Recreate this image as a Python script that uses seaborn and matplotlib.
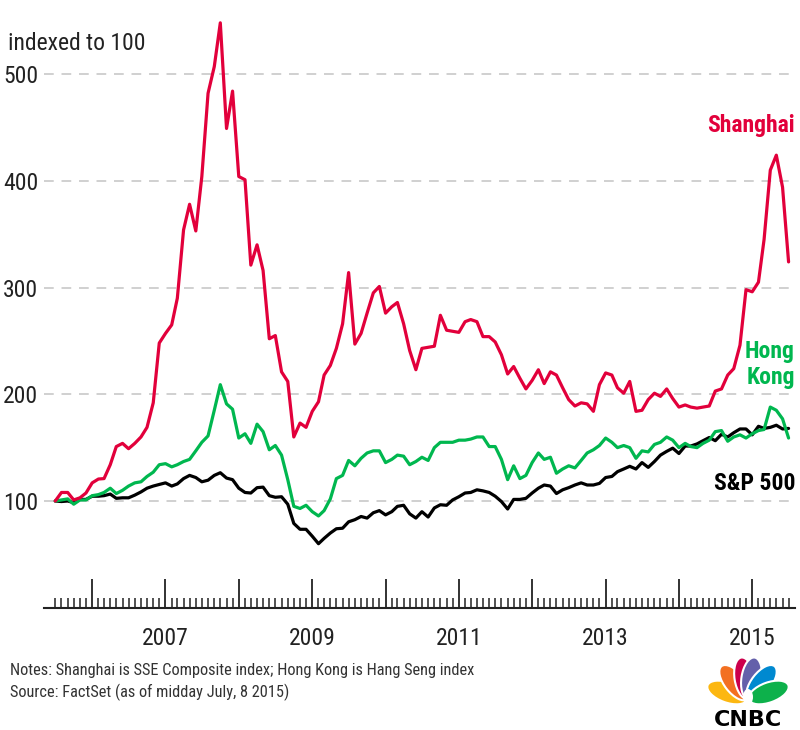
import numpy as np
import pandas as pd
import matplotlib
matplotlib.use("Agg")
import matplotlib.pyplot as plt
import matplotlib.dates as mdates
from matplotlib.ticker import FuncFormatter, FixedLocator
from matplotlib.patches import Ellipse
import seaborn as sns

# -----------------------------
# DATA (monthly, indexed to 100)
# -----------------------------
dates = pd.date_range("2005-07-01", periods=121, freq="MS")

shanghai = [100, 108, 108, 101, 103, 107.5, 117, 120.6, 121, 134, 151, 154, 149, 154, 160, 169,
            192, 248, 257, 265, 290, 354, 378, 353, 404, 482, 507, 548, 449, 484, 404, 401,
            321, 340, 316, 252, 255, 221, 212, 160, 173, 169, 184, 193, 218, 227, 243, 266,
            314, 247, 257, 276, 295, 301, 276, 282, 286, 266, 241, 223, 243, 244, 245, 274,
            260, 259, 258, 268, 270, 268, 254, 254, 249, 237, 219, 226, 215, 205, 213, 223,
            210, 221, 218, 206, 195, 189, 192, 191, 184, 209, 220, 218, 206, 201, 212, 184,
            185, 195, 201, 198, 205, 196, 188, 190, 188, 187, 188, 189, 203, 205, 218, 224,
            246, 298, 296, 305, 345, 410, 424, 394, 324]

hong_kong = [100, 101, 102, 97, 101, 101, 105, 106, 108, 112, 107, 110, 114, 117, 118, 123,
             127, 134, 135, 132, 134, 137, 139, 147, 155, 161, 185, 209, 191, 186, 159, 163,
             154, 172, 165, 148, 152, 143, 120, 95, 93, 96, 90, 86, 91, 102, 121, 124,
             138, 133, 140, 145, 147, 147, 136, 139, 143, 142, 134, 137, 141, 138, 150, 155,
             155, 155, 157, 157, 158, 160, 160, 151, 151, 139, 120, 133, 121, 124, 136, 145,
             139, 141, 126, 130, 133, 131, 138, 145, 148, 152, 159, 155, 150, 152, 150, 140,
             147, 146, 153, 155, 160, 157, 150, 154, 151, 150, 154, 157, 165, 166, 156, 160,
             162, 159, 163, 166, 167, 188, 185, 177, 159]

sp500 = [100, 99.5, 100, 98.5, 101.5, 101.5, 104.5, 104.5, 105, 106.5, 102.5, 103, 103, 105.5,
         108.5, 112, 114, 115.5, 117, 114, 116, 121, 124, 122, 118, 119.5, 124, 126.5, 121.5,
         120, 112, 108, 107.5, 112.5, 113, 105, 103.5, 104, 97, 79, 73.5, 73.5, 67, 60, 65,
         70, 74, 74.5, 80.5, 82.5, 85.5, 84, 89, 91, 87, 90, 95, 96, 88, 84, 90, 85, 93.5,
         96.5, 96, 101, 104, 107.5, 108, 110.5, 109.5, 108, 104.5, 99.5, 92.5, 101.5, 101.5,
         102.5, 107.5, 112, 115, 114, 107, 110.5, 112.5, 115, 117, 115, 115, 116.5, 122, 123,
         127.5, 130, 132.5, 130, 136, 131.5, 137, 143, 146.5, 149.5, 144.5, 151.5, 151.5,
         153.5, 156.5, 159.5, 156.5, 162.5, 160, 164, 167.5, 167.5, 162, 170, 168, 169, 171,
         167.5, 168]

series_names = ["Shanghai", "Hong Kong", "S&P 500"]
colors = ["#e2003b", "#00b74f", "#000000"]
y_ticks = [100, 200, 300, 400, 500]

df = pd.DataFrame({"date": dates, "Shanghai": shanghai,
                   "Hong Kong": hong_kong, "S&P 500": sp500})
long_df = df.melt(id_vars="date", var_name="index", value_name="value")

# -----------------------------
# STYLE
# -----------------------------
sns.set_style("white")
plt.rcParams["font.family"] = ["Liberation Sans Narrow", "Roboto Condensed", "DejaVu Sans"]
plt.rcParams["text.color"] = "#222222"

fig = plt.figure(figsize=(8, 7.3), dpi=100)
ax = fig.add_axes([44 / 800, 1 - 607.75 / 730, 751 / 800, 597.75 / 730])

sns.lineplot(data=long_df, x="date", y="value", hue="index",
             palette=dict(zip(series_names, colors)), hue_order=series_names[::-1],
             linewidth=2.3, legend=False, ax=ax)

ax.set_xlim(pd.Timestamp("2005-05-06"), pd.Timestamp("2015-08-02"))
ax.set_ylim(0, 560)

# gridlines
ax.set_yticks(y_ticks)
ax.yaxis.grid(True, color="#d0d0d0", linestyle=(0, (5, 4)), linewidth=1.4)
ax.set_axisbelow(True)

for s in ["left", "right", "top"]:
    ax.spines[s].set_visible(False)
ax.spines["bottom"].set_color("#222222")
ax.spines["bottom"].set_linewidth(1.5)

ax.tick_params(axis="y", length=0, labelsize=17, pad=4, labelcolor="#222222")

# x ticks: yearly major, monthly minor, label odd years only
ax.xaxis.set_major_locator(mdates.YearLocator(1))
ax.xaxis.set_minor_locator(FixedLocator(mdates.date2num(
    pd.date_range("2005-07-01", "2015-07-01", freq="MS"))))
ax.xaxis.set_major_formatter(FuncFormatter(
    lambda v, p: str(mdates.num2date(v).year) if mdates.num2date(v).year % 2 == 1 else ""))
ax.tick_params(axis="x", which="both", bottom=True)
ax.tick_params(axis="x", which="major", direction="in", length=21, width=1.3,
               color="#222222", labelsize=17, pad=14, labelcolor="#222222")
ax.tick_params(axis="x", which="minor", direction="in", length=7, width=1.1, color="#222222")
ax.set_xlabel("")
ax.set_ylabel("")

# series labels
end = pd.Timestamp("2015-08-02")
ax.text(end, 452, "Shanghai", color=colors[0], fontsize=17, fontweight="bold",
        ha="right", va="center")
ax.text(end, 228, "Hong\nKong", color=colors[1], fontsize=17, fontweight="bold",
        ha="right", va="center", linespacing=1.15)
ax.text(end, 116.5, "S&P 500", color=colors[2], fontsize=17, fontweight="bold",
        ha="right", va="center")

fig.text(8 / 800, 1 - 43 / 730, "indexed to 100", fontsize=17, va="center", ha="left")

fig.text(10 / 800, 1 - 670 / 730,
         "Notes: Shanghai is SSE Composite index; Hong Kong is Hang Seng index",
         fontsize=11.8, va="center", ha="left", color="#333333")
fig.text(10 / 800, 1 - 692 / 730, "Source: FactSet (as of midday July, 8 2015)",
         fontsize=11.8, va="center", ha="left", color="#333333")

# -----------------------------
# CNBC LOGO (simple peacock)
# -----------------------------
lax = fig.add_axes([700 / 800, 0, 95 / 800, 75 / 730])
lax.set_xlim(0, 95)
lax.set_ylim(0, 75)
lax.axis("off")
feathers = ["#fcb711", "#f37021", "#cc004c", "#6460aa", "#0089d0", "#0db14b"]
angles = [160, 128, 99, 81, 52, 20]
px, py = 48, 30
for c, a in zip(feathers, angles):
    r = np.deg2rad(a)
    lax.add_patch(Ellipse((px + 22 * np.cos(r), py + 22 * np.sin(r)), 42, 20, angle=a,
                          facecolor=c, edgecolor="white", linewidth=1.5))
lax.add_patch(Ellipse((px, py + 3), 10, 16, facecolor="white", edgecolor="none"))
lax.text(48, 10, "CNBC", fontsize=16, fontweight="bold", ha="center", va="center",
         color="black", family="DejaVu Sans")

fig.savefig("out.png", dpi=100)
